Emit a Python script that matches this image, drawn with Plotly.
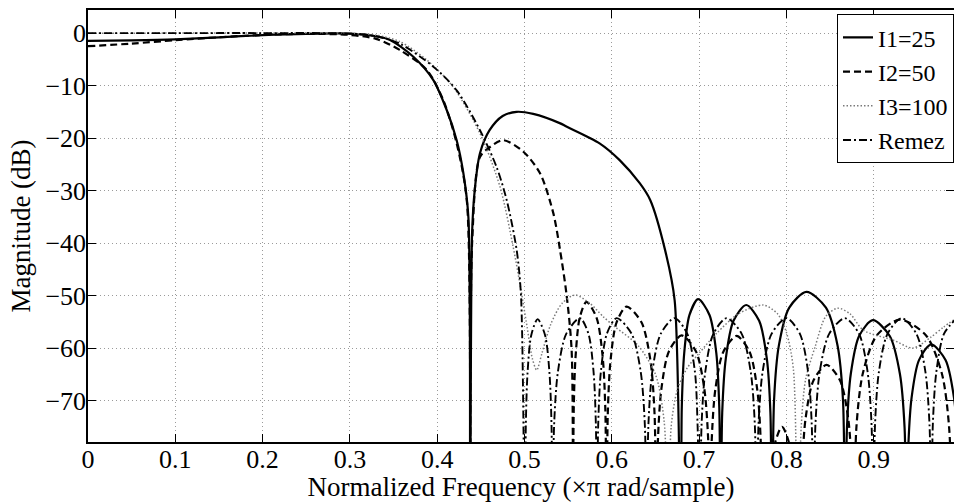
import plotly.graph_objects as go

# ---------------- data ----------------
x_ticks = [0, 0.1, 0.2, 0.3, 0.4, 0.5, 0.6, 0.7, 0.8, 0.9]
x_ticklabels = ["0", "0.1", "0.2", "0.3", "0.4", "0.5", "0.6", "0.7", "0.8", "0.9"]
y_ticks = [-70, -60, -50, -40, -30, -20, -10, 0]
y_ticklabels = ["\u221270", "\u221260", "\u221250", "\u221240", "\u221230", "\u221220", "\u221210", "0"]

series_names = ["I1=25", "I2=50", "I3=100", "Remez"]

i1_x = [0, 0.05, 0.1, 0.15, 0.2, 0.25, 0.3, 0.33, 0.346, 0.3727, 0.3956, 0.411, 0.4223, 0.43, 0.4357, 0.4376,
        0.440, 0.443, 0.449, 0.460, 0.475, 0.491, 0.51, 0.541, 0.548, 0.586, 0.609, 0.632, 0.644, 0.661, 0.672, 0.679,
        0.6802, 0.683, 0.689, 0.699, 0.7119, 0.7197, 0.7231, 0.7247,
        0.7265, 0.7306, 0.7394, 0.754, 0.7688, 0.7776, 0.7817, 0.7835,
        0.7859, 0.7914, 0.8033, 0.823, 0.8453, 0.8586, 0.8648, 0.8675,
        0.8694, 0.8738, 0.8833, 0.899, 0.9184, 0.9300, 0.9354, 0.9377,
        0.9394, 0.9434, 0.9519, 0.966, 0.9823, 0.992, 0.9966, 0.9985]
i1_y = [-1.5, -1.4, -1.2, -0.8, -0.4, -0.15, -0.1, -0.6, -1.3, -4.5, -8.95, -14.7, -20.4, -26.7, -35, -100,
        -38, -29.9, -22.9, -18.5, -15.8, -15.0, -15.4, -17.2, -17.8, -21.0, -24.2, -28.6, -31.8, -41.3, -50.9, -100,
        -71.2, -60.9, -53.7, -50.7, -53.7, -60.9, -71.2, -100,
        -72.3, -62.0, -54.8, -51.8, -54.8, -62.0, -72.3, -100,
        -69.8, -59.5, -52.3, -49.3, -52.3, -59.5, -69.8, -100,
        -75.2, -64.9, -57.7, -54.7, -57.7, -64.9, -75.2, -100,
        -79.8, -69.5, -62.3, -59.3, -62.3, -69.5, -79.8, -100]

i2_x = [0, 0.05, 0.1, 0.15, 0.2, 0.25, 0.3, 0.33, 0.357, 0.388, 0.407, 0.4223, 0.434, 0.4378,
        0.440, 0.449, 0.4605, 0.4757, 0.4987, 0.5178, 0.533, 0.5407, 0.548, 0.554, 0.5555,
        0.5564, 0.5586, 0.5633, 0.571, 0.5825, 0.5894, 0.5926, 0.594,
        0.5954, 0.5986, 0.6055, 0.617, 0.634, 0.6442, 0.649, 0.651,
        0.6527, 0.6568, 0.6655, 0.68, 0.6963, 0.706, 0.7106, 0.7125,
        0.7143, 0.7186, 0.7278, 0.743, 0.7578, 0.7666, 0.7707, 0.7725,
        0.784, 0.795, 0.806, 0.816,
        0.8178, 0.822, 0.831, 0.846, 0.8615, 0.8708, 0.8751, 0.877,
        0.8802, 0.8876, 0.9035, 0.93, 0.96, 0.978, 0.9864, 0.99]
i2_y = [-2.5, -2.0, -1.35, -0.8, -0.35, -0.15, -0.35, -1.1, -3.2, -7.0, -12.8, -21.0, -32, -100,
        -40, -23.6, -21.7, -20.4, -22.6, -26.7, -34.3, -41.3, -49.6, -60.4, -100,
        -71.7, -61.4, -54.2, -51.2, -54.2, -61.4, -71.7, -100,
        -72.6, -62.3, -55.1, -52.1, -55.1, -62.3, -72.6, -100,
        -78.1, -67.8, -60.6, -57.6, -60.6, -67.8, -78.1, -100,
        -78.2, -67.9, -60.7, -57.7, -60.7, -67.9, -78.2, -100,
        -80, -75, -80, -100,
        -83.7, -73.4, -66.2, -63.2, -66.2, -73.4, -83.7, -100,
        -75.1, -64.8, -57.6, -54.6, -57.6, -64.8, -75.1, -100]

i3_x = [0, 0.1, 0.2, 0.3, 0.33, 0.357, 0.388, 0.418, 0.449, 0.472, 0.487, 0.495, 0.503, 0.509, 0.514,
        0.52, 0.53, 0.543, 0.558, 0.575, 0.59, 0.604, 0.63, 0.65, 0.66, 0.665,
        0.668, 0.675, 0.686, 0.70, 0.72, 0.745, 0.7735, 0.79, 0.80, 0.808, 0.813,
        0.817, 0.822, 0.833, 0.845, 0.859, 0.873, 0.888, 0.9225, 0.945, 0.965, 0.98, 0.993]
i3_y = [-0.05, 0, 0, -0.05, -0.4, -1.6, -5.1, -10.2, -19.1, -29.3, -40.7, -48, -56, -62, -64.2,
        -61, -55.5, -51.5, -49.9, -51.5, -54, -56, -59.5, -65, -74, -100,
        -75, -68, -63.9, -61, -57.2, -53.5, -51.8, -53.5, -57, -64, -100,
        -75, -66, -59.7, -54, -52.4, -53.5, -56.6, -58.5, -60, -58, -56, -54.5]

remez_x = [0, 0.1, 0.2, 0.3, 0.33, 0.357, 0.3956, 0.4223, 0.449, 0.468, 0.4796, 0.491, 0.496, 0.5006,
           0.5015, 0.5035, 0.5078, 0.515, 0.5235, 0.5286, 0.531, 0.532,
           0.5339, 0.5383, 0.5478, 0.5636, 0.5733, 0.5791, 0.5818, 0.583,
           0.5844, 0.5875, 0.5943, 0.6055, 0.6228, 0.6331, 0.6379, 0.640,
           0.6419, 0.6464, 0.656, 0.672, 0.6865, 0.6952, 0.6983, 0.701,
           0.7028, 0.7071, 0.7163, 0.7315, 0.7488, 0.7591, 0.7639, 0.766,
           0.768, 0.7728, 0.783, 0.800, 0.8155, 0.8248, 0.8291, 0.831,
           0.8332, 0.8382, 0.849, 0.867, 0.8833, 0.893, 0.8976, 0.8995,
           0.9015, 0.906, 0.9158, 0.932, 0.949, 0.9592, 0.964, 0.966,
           0.9677, 0.9718, 0.9805, 0.995]
remez_y = [0, 0, 0, -0.1, -0.6, -2.0, -6.4, -10.9, -18.5, -25.5, -31.8, -41.3, -50, -100,
           -75, -64.7, -57.5, -54.5, -57.5, -64.7, -75, -100,
           -74.8, -64.5, -57.3, -54.3, -57.3, -64.5, -74.8, -100,
           -74.8, -64.5, -57.3, -54.3, -57.3, -64.5, -74.8, -100,
           -74.8, -64.5, -57.3, -54.3, -57.3, -64.5, -74.8, -100,
           -74.8, -64.5, -57.3, -54.3, -57.3, -64.5, -74.8, -100,
           -74.8, -64.5, -57.3, -54.3, -57.3, -64.5, -74.8, -100,
           -74.8, -64.5, -57.3, -54.3, -57.3, -64.5, -74.8, -100,
           -74.8, -64.5, -57.3, -54.3, -57.3, -64.5, -74.8, -100,
           -74.8, -64.5, -57.3, -54.3]

# ---------------- figure ----------------
FONT = "Liberation Serif"
FS = 26
FS_TITLE = 27
fig = go.Figure()

styles = [
    dict(color="black", width=2.2, dash="solid"),
    dict(color="black", width=2.2, dash="7px,4px"),
    dict(color="#7a7a7a", width=1.5, dash="1.5px,2px"),
    dict(color="black", width=1.9, dash="8px,3px,2px,3px"),
]
data = [(i1_x, i1_y), (i2_x, i2_y), (i3_x, i3_y), (remez_x, remez_y)]

for name, (xs, ys), st in zip(series_names, data, styles):
    fig.add_trace(go.Scatter(x=xs, y=ys, mode="lines", name=name,
                             line=dict(color=st["color"], width=st["width"], dash=st["dash"],
                                       shape="spline", smoothing=0.8)))

axis_common = dict(showline=True, linecolor="black", linewidth=1.5, mirror="ticks",
                   ticks="inside", ticklen=8, tickcolor="black", tickwidth=1.2,
                   showgrid=True, gridcolor="#9a9a9a", gridwidth=1, griddash="1px,3px",
                   zeroline=False, automargin=False,
                   tickfont=dict(family=FONT, size=FS, color="black"))

fig.update_xaxes(range=[0, 0.992], tickvals=x_ticks, ticktext=x_ticklabels, ticklabelstandoff=-7,
                 title=dict(text="Normalized Frequency (\u00d7\u03c0 rad/sample)",
                            font=dict(family=FONT, size=FS_TITLE, color="black"), standoff=6),
                 **axis_common)
fig.update_yaxes(range=[-77.9, 4.4], tickvals=y_ticks, ticktext=y_ticklabels, ticklabelstandoff=-5,
                 title=dict(text="Magnitude (dB)", font=dict(family=FONT, size=FS_TITLE, color="black"),
                            standoff=7),
                 **axis_common)

fig.update_layout(
    width=954, height=502,
    margin=dict(l=88, r=0, t=10, b=60, autoexpand=False),
    plot_bgcolor="white", paper_bgcolor="white",
    font=dict(family=FONT, size=FS, color="black"),
    showlegend=True,
    legend=dict(x=1, xanchor="right", y=0.99, yanchor="top",
                bgcolor="white", bordercolor="black", borderwidth=1,
                font=dict(family=FONT, size=24, color="black"),
                itemwidth=30, tracegroupgap=0),
)

fig.write_html("out.html", config={"displayModeBar": False},
               post_script="document.body.style.margin='0';document.body.style.overflow='hidden';")
